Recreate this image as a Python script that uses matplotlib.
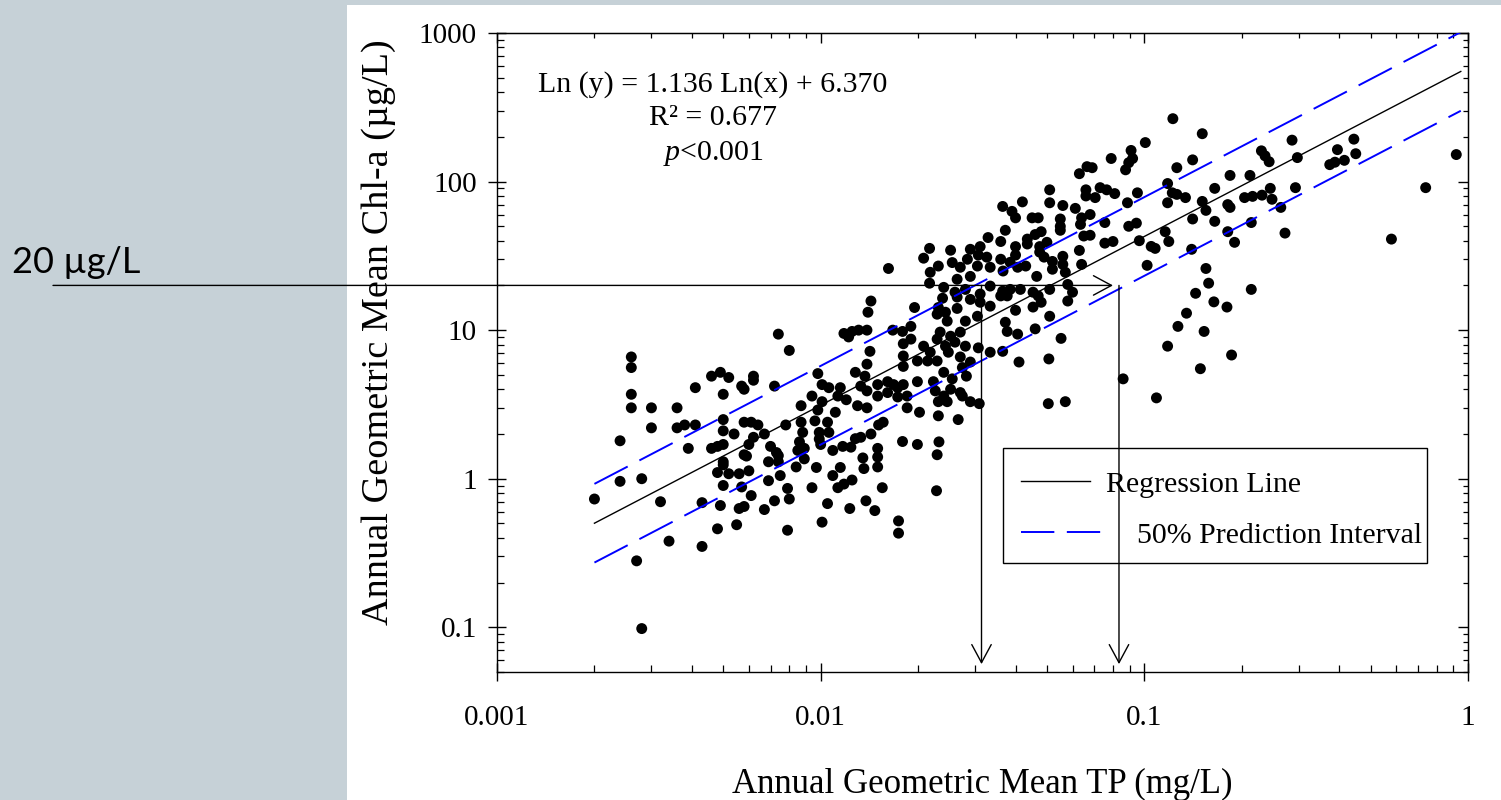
import numpy as np
import matplotlib
matplotlib.use("Agg")
import matplotlib.pyplot as plt
from matplotlib.patches import Rectangle
from matplotlib.lines import Line2D
from matplotlib.transforms import blended_transform_factory
from matplotlib import ticker

plt.rcParams['font.family'] = ['Liberation Serif', 'DejaVu Serif']
plt.rcParams['mathtext.fontset'] = 'custom'
plt.rcParams['mathtext.rm'] = 'Liberation Serif'
plt.rcParams['mathtext.it'] = 'Liberation Serif:italic'
plt.rcParams['lines.scale_dashes'] = False

# ---------------- data ----------------
tp = [
    0.0026, 0.0026, 0.0026, 0.0026, 0.0030, 0.0036, 0.0041, 0.0046, 0.0049, 0.0052,
    0.0062, 0.0062, 0.0057, 0.0058, 0.0050, 0.0072, 0.0030, 0.0024, 0.0036, 0.0038,
    0.0041, 0.0050, 0.0050, 0.0054, 0.0039, 0.0046, 0.0048, 0.0050, 0.0058, 0.0061,
    0.0064, 0.0067, 0.0062, 0.0060, 0.0070, 0.0058, 0.0059, 0.0050, 0.0050, 0.0069,
    0.0073, 0.0074, 0.0048, 0.0052, 0.0056, 0.0060, 0.0069, 0.0075, 0.0024, 0.0028,
    0.0020, 0.0032, 0.0043, 0.0050, 0.0057, 0.0049, 0.0061, 0.0056, 0.0058, 0.0067,
    0.0072, 0.0048, 0.0055, 0.0034, 0.0043, 0.0027, 0.0028,
    0.0162, 0.0143, 0.0140, 0.0074, 0.0080, 0.0118, 0.0122, 0.0125, 0.0131, 0.0139,
    0.0142, 0.0139, 0.0128, 0.0137, 0.0167, 0.0179, 0.0180, 0.0180, 0.0180, 0.0190,
    0.0098, 0.0101, 0.0106, 0.0115, 0.0094, 0.0087, 0.0101, 0.0113, 0.0120, 0.0133,
    0.0139, 0.0150, 0.0161, 0.0173, 0.0180, 0.0150, 0.0161, 0.0173, 0.0185, 0.0130,
    0.0139, 0.0111, 0.0098, 0.0185, 0.0078, 0.0087, 0.0088, 0.0096, 0.0105, 0.0099,
    0.0106, 0.0086, 0.0085, 0.0089, 0.0099, 0.0100, 0.0109, 0.0117, 0.0124, 0.0128,
    0.0133, 0.0143, 0.0151, 0.0156, 0.0179, 0.0074, 0.0084, 0.0089, 0.0097, 0.0109,
    0.0115, 0.0135, 0.0136, 0.0150, 0.0150, 0.0150, 0.0079, 0.0080, 0.0094, 0.0113,
    0.0118, 0.0125, 0.0105, 0.0123, 0.0138, 0.0147, 0.0155, 0.0101, 0.0079, 0.0174,
    0.0174,
    0.0365, 0.0372, 0.0329, 0.0360, 0.0311, 0.0290, 0.0307, 0.0326, 0.0284, 0.0305,
    0.0334, 0.0360, 0.0366, 0.0252, 0.0217, 0.0208, 0.0231, 0.0255, 0.0270, 0.0218,
    0.0264, 0.0290, 0.0217, 0.0240, 0.0260, 0.0280, 0.0311, 0.0334, 0.0360, 0.0264,
    0.0238, 0.0290, 0.0311, 0.0334, 0.0195, 0.0231, 0.0264, 0.0243, 0.0229, 0.0246,
    0.0280, 0.0305, 0.0372, 0.0190, 0.0234, 0.0229, 0.0252, 0.0270, 0.0243, 0.0260,
    0.0280, 0.0208, 0.0218, 0.0199, 0.0214, 0.0229, 0.0248, 0.0270, 0.0290, 0.0307,
    0.0334, 0.0365, 0.0240, 0.0274, 0.0282, 0.0199, 0.0223, 0.0255, 0.0168, 0.0226,
    0.0252, 0.0270, 0.0240, 0.0231, 0.0246, 0.0274, 0.0290, 0.0309, 0.0202, 0.0231,
    0.0266, 0.0199, 0.0232, 0.0229, 0.0228,
    0.0790, 0.0665, 0.0690, 0.0630, 0.0510, 0.0660, 0.0660, 0.0705, 0.0730, 0.0765,
    0.0810, 0.0510, 0.0560, 0.0612, 0.0420, 0.0390, 0.0400, 0.0450, 0.0470, 0.0550,
    0.0550, 0.0550, 0.0640, 0.0680, 0.0635, 0.0650, 0.0680, 0.0755, 0.0755, 0.0800,
    0.0480, 0.0460, 0.0435, 0.0400, 0.0400, 0.0435, 0.0475, 0.0500, 0.0475, 0.0490,
    0.0520, 0.0520, 0.0560, 0.0560, 0.0570, 0.0630, 0.0640, 0.0430, 0.0406, 0.0385,
    0.0465, 0.0510, 0.0414, 0.0385, 0.0365, 0.0377, 0.0453, 0.0470, 0.0480, 0.0453,
    0.0580, 0.0600, 0.0580, 0.0400, 0.0510, 0.0377, 0.0406, 0.0460, 0.0553, 0.0410,
    0.0507, 0.0505, 0.0570,
    0.1225, 0.151, 0.1007, 0.091, 0.092, 0.0895, 0.0875, 0.126, 0.141, 0.184,
    0.0952, 0.0887, 0.118, 0.122, 0.126, 0.118, 0.134, 0.165, 0.151, 0.155,
    0.181, 0.184, 0.141, 0.165, 0.0895, 0.0945, 0.116, 0.0965, 0.105, 0.108,
    0.119, 0.181, 0.190, 0.140, 0.102, 0.155, 0.158, 0.144, 0.164, 0.180,
    0.135, 0.127, 0.153, 0.118, 0.186, 0.149, 0.086, 0.109,
    0.286, 0.444, 0.230, 0.236, 0.243, 0.297, 0.395, 0.450, 0.374, 0.388,
    0.415, 0.212, 0.204, 0.216, 0.231, 0.245, 0.248, 0.293, 0.264, 0.214,
    0.272, 0.92, 0.74, 0.58, 0.214,
]
chla = [
    6.6, 5.6, 3.7, 3.0, 3.0, 3.0, 4.1, 4.9, 5.2, 4.8,
    4.9, 4.6, 4.2, 4.0, 3.7, 4.2, 2.2, 1.8, 2.2, 2.3,
    2.3, 2.5, 2.1, 2.0, 1.6, 1.6, 1.65, 1.7, 2.4, 2.4,
    2.3, 2.0, 1.9, 1.7, 1.65, 1.45, 1.42, 1.3, 1.24, 1.3,
    1.5, 1.3, 1.1, 1.08, 1.08, 1.13, 0.97, 1.05, 0.96, 1.0,
    0.73, 0.70, 0.69, 0.90, 0.88, 0.66, 0.77, 0.63, 0.65, 0.62,
    0.71, 0.46, 0.49, 0.38, 0.35, 0.28, 0.098,
    26, 15.7, 13.2, 9.4, 7.3, 9.5, 9.0, 9.8, 10.0, 10.0,
    7.2, 5.9, 5.2, 4.9, 10.0, 9.8, 8.1, 6.7, 5.7, 8.7,
    5.1, 4.3, 4.1, 4.1, 3.6, 3.1, 3.3, 3.6, 3.4, 4.2,
    3.9, 4.3, 4.5, 4.1, 4.3, 3.6, 3.8, 3.55, 3.6, 3.1,
    3.0, 2.8, 2.9, 3.0, 2.3, 2.4, 2.05, 2.45, 2.4, 2.05,
    2.05, 1.77, 1.55, 1.6, 1.85, 1.7, 1.55, 1.65, 1.63, 1.86,
    1.9, 2.0, 2.3, 2.4, 1.78, 1.43, 1.2, 1.36, 1.19, 1.05,
    1.19, 1.38, 1.17, 1.6, 1.4, 1.2, 0.86, 0.73, 0.87, 0.87,
    0.92, 0.98, 0.68, 0.63, 0.71, 0.61, 0.87, 0.51, 0.45, 0.52,
    0.43,
    68, 47, 42, 39.5, 36.5, 35, 32, 31, 30, 27,
    26.5, 30, 25, 34.5, 35.5, 30.5, 27, 28.5, 26.5, 24.5,
    22, 23, 20.7, 19.4, 18, 18.8, 17.5, 19.8, 17, 16.7,
    16.4, 16.1, 15.4, 14.5, 14.2, 14.2, 14.0, 13.2, 12.8, 11.5,
    11.5, 12.4, 11.3, 10.6, 9.7, 8.7, 9.1, 9.7, 7.8, 8.3,
    7.8, 7.8, 7.1, 6.2, 6.2, 6.2, 7.1, 6.6, 6.1, 7.6,
    7.1, 7.2, 5.2, 5.6, 4.9, 4.5, 4.5, 4.7, 4.3, 3.9,
    4.0, 3.8, 3.6, 3.3, 3.3, 3.6, 3.3, 3.2, 2.8, 2.65,
    2.5, 1.7, 1.77, 1.45, 0.83,
    143, 126, 124, 113, 88, 88, 80, 78, 91, 88,
    83, 72, 69, 66, 73, 63, 57, 57, 57, 56,
    50, 47, 57, 60, 51.5, 43, 43.5, 53, 38.5, 39.5,
    46, 44, 41, 36.5, 32, 38, 36.5, 39, 33.5, 31,
    29, 25.7, 31.4, 27.7, 24.5, 34.4, 27.7, 27, 26.5, 28.6,
    23, 18.8, 18.8, 18.8, 18.3, 17, 18, 17, 15.4, 14.3,
    20.3, 18, 15.7, 13.6, 12.4, 9.8, 9.4, 10.2, 8.8, 6.1,
    6.4, 3.2, 3.3,
    265, 210, 183, 162, 143, 134, 120, 124, 140, 110,
    84, 72, 97, 84, 82, 72, 78, 90, 73.5, 64,
    70, 67, 56, 54, 50, 52.5, 46, 40, 36.6, 35.5,
    39.5, 46, 39, 35, 27.3, 26, 20.7, 17.7, 15.5, 14.3,
    13, 10.6, 9.8, 7.8, 6.8, 5.5, 4.7, 3.5,
    190, 193, 161, 149, 136, 145, 164, 154, 130, 135,
    139, 110, 78, 79.5, 81, 90, 76, 91, 67, 53,
    45, 152, 91, 41, 18.8,
]

# regression: Ln(y) = 1.136 Ln(x) + 6.370, 50 % prediction interval factor
slope = 1.136
intercept = 6.370
pi_factor = 1.84
fit_range = (0.002, 0.95)

target_chla = 20            # µg/L
tp_arrows = [0.0314, 0.0835]  # TP read at the PI bounds
h_arrow_end = 0.080

x_ticks = [0.001, 0.01, 0.1, 1]
y_ticks = [0.1, 1, 10, 100, 1000]

# ---------------- figure ----------------
W, H = 1501, 800
fig = plt.figure(figsize=(W / 100, H / 100), dpi=100, facecolor='#C6D1D7')
fig.patches.append(Rectangle((347 / W, 0), 1, (H - 5) / H, transform=fig.transFigure,
                             facecolor='white', edgecolor='none', zorder=-10))

ax = fig.add_axes([497 / W, 128 / H, 971 / W, 639 / H])
ax.set_xscale('log')
ax.set_yscale('log')
ax.set_xlim(0.001, 1)
ax.set_ylim(0.05, 1000)

ax.scatter(tp, chla, s=62, c='black', edgecolors='none', zorder=2)

xs = np.logspace(np.log10(fit_range[0]), np.log10(fit_range[1]), 300)
yfit = np.exp(intercept) * xs ** slope
ax.plot(xs, yfit, color='black', lw=1.0, zorder=3)
ax.plot(xs, yfit * pi_factor, color='#0000FF', lw=1.4, dashes=(27, 9.5), zorder=3)
ax.plot(xs, yfit / pi_factor, color='#0000FF', lw=1.4, dashes=(27, 9.5), zorder=3)

# ticks
fmt = ticker.FuncFormatter(lambda v, p: f'{v:g}')
ax.xaxis.set_major_locator(ticker.FixedLocator(x_ticks))
ax.yaxis.set_major_locator(ticker.FixedLocator(y_ticks))
ax.xaxis.set_minor_locator(ticker.LogLocator(base=10, subs=np.arange(2, 10), numticks=20))
ax.yaxis.set_minor_locator(ticker.LogLocator(base=10, subs=np.arange(2, 10), numticks=20))
ax.xaxis.set_major_formatter(fmt)
ax.yaxis.set_major_formatter(fmt)
ax.xaxis.set_minor_formatter(ticker.NullFormatter())
ax.yaxis.set_minor_formatter(ticker.NullFormatter())
ax.tick_params(which='major', direction='inout', length=13, width=1.0, labelsize=21,
               top=False, right=False)
ax.tick_params(axis='x', which='major', pad=17)
ax.tick_params(axis='y', which='major', pad=8)
ax.tick_params(which='minor', direction='in', length=4.7, width=0.9, top=False, right=False)
for s in ax.spines.values():
    s.set_linewidth(1.0)

secx = ax.secondary_xaxis('top')
secx.xaxis.set_major_locator(ticker.FixedLocator(x_ticks))
secx.xaxis.set_minor_locator(ticker.LogLocator(base=10, subs=np.arange(2, 10), numticks=20))
secx.tick_params(which='major', direction='in', length=7, width=1.0, labeltop=False)
secx.tick_params(which='minor', direction='in', length=3.6, width=0.9)
secx.xaxis.set_minor_formatter(ticker.NullFormatter())
secy = ax.secondary_yaxis('right')
secy.yaxis.set_major_locator(ticker.FixedLocator(y_ticks))
secy.yaxis.set_minor_locator(ticker.LogLocator(base=10, subs=np.arange(2, 10), numticks=20))
secy.tick_params(which='major', direction='in', length=7, width=1.0, labelright=False)
secy.tick_params(which='minor', direction='in', length=3.6, width=0.9)
secy.yaxis.set_minor_formatter(ticker.NullFormatter())

# axis labels
fig.text(982 / W, 1 - 784 / H, 'Annual Geometric Mean TP (mg/L)', ha='center', va='center',
         fontsize=25)
fig.text(379 / W, 1 - 332 / H, 'Annual Geometric Mean Chl-a (µg/L)', rotation=90,
         ha='center', va='center', fontsize=27.5)

# equation block
cx = (713 - 497) / 971
ax.text(cx, (672 - 85) / 639, 'Ln (y) = 1.136 Ln(x) + 6.370', transform=ax.transAxes,
        ha='center', va='center', fontsize=21.5)
ax.text(cx, (672 - 118) / 639, 'R² = 0.677', transform=ax.transAxes,
        ha='center', va='center', fontsize=21.5)
ax.text(cx, (672 - 153) / 639, '$p$<0.001', transform=ax.transAxes,
        ha='center', va='center', fontsize=21.5)

# legend (manual)
lx0, lx1 = (1003 - 497) / 971, (1427 - 497) / 971
ly0, ly1 = (672 - 563) / 639, (672 - 448) / 639
ax.add_patch(Rectangle((lx0, ly0), lx1 - lx0, ly1 - ly0, transform=ax.transAxes,
                       facecolor='white', edgecolor='black', lw=1.0, zorder=4))
ax.add_line(Line2D([(1021 - 497) / 971, (1090 - 497) / 971], [(672 - 481) / 639] * 2,
                   transform=ax.transAxes, color='black', lw=1.0, zorder=4.5))
ax.add_line(Line2D([(1021 - 497) / 971, (1101 - 497) / 971], [(672 - 532) / 639] * 2,
                   transform=ax.transAxes, color='#0000FF', lw=1.4, dashes=(24, 9),
                   zorder=4.5))
ax.text((1106 - 497) / 971, (672 - 492) / 639, 'Regression Line', transform=ax.transAxes,
        ha='left', va='baseline', fontsize=21.5, zorder=4.5)
ax.text((1137 - 497) / 971, (672 - 543) / 639, '50% Prediction Interval',
        transform=ax.transAxes, ha='left', va='baseline', fontsize=21.5, zorder=4.5)

# arrows
aprops = dict(arrowstyle='->,head_length=0.65,head_width=0.35', color='black', lw=1.0,
              shrinkA=0, shrinkB=0, mutation_scale=20)
trans = blended_transform_factory(fig.transFigure, ax.transData)
ax.annotate('', xy=(h_arrow_end, target_chla), xycoords='data',
            xytext=(53 / W, target_chla), textcoords=trans,
            arrowprops=aprops, annotation_clip=False, zorder=6)
for xv in tp_arrows:
    ax.annotate('', xy=(xv, 0.0565), xycoords='data', xytext=(xv, target_chla),
                textcoords='data', arrowprops=aprops, zorder=6)

fig.text(12 / W, 1 - 273 / H, '20 µg/L', family=['Lato', 'DejaVu Sans'], fontsize=26,
         ha='left', va='baseline')

fig.savefig('out.png', dpi=100, facecolor=fig.get_facecolor())
